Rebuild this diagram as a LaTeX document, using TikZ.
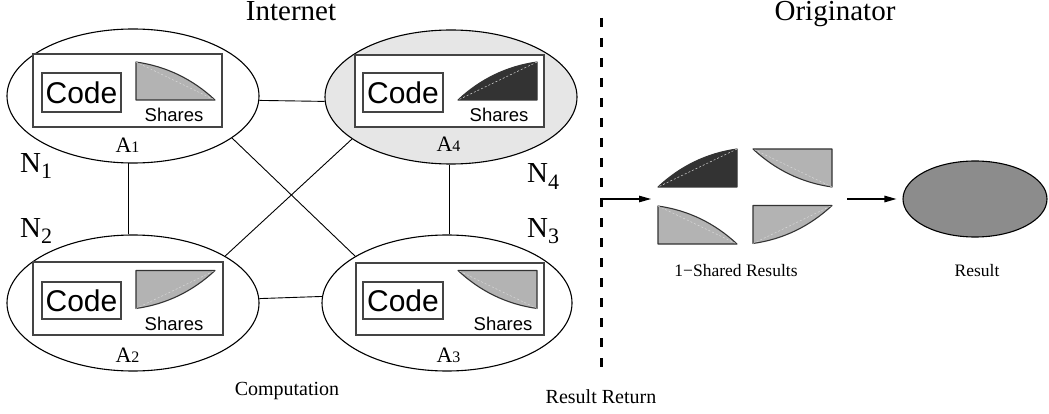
\documentclass[tikz,border=0pt]{standalone}
\usepackage{fontspec}
\setmainfont{Liberation Serif}
\newfontfamily\sansf{Liberation Sans}
\usetikzlibrary{shapes.geometric,arrows.meta}

\definecolor{siteshade}{HTML}{E6E6E6}
\definecolor{sharelight}{HTML}{B3B3B3}
\definecolor{sharedark}{HTML}{333333}
\definecolor{resultfill}{HTML}{8C8C8C}
\definecolor{boxedge}{HTML}{444444}

% one share: left edge, bottom edge and a bulging arc, centred on the origin
\newcommand\sharepiece[3]{%
  \begin{scope}[shift={#1},#2]
    \fill[#3,draw=sharedark,line width=1.1pt,line join=round]
      (-39.5,-19) -- (-39.5,19) -- (39.5,19)
      .. controls (17.1,-1.9) and (-9.2,-14.7) .. cycle;
    \draw[white!85!black,line width=0.5pt,dash pattern=on 2pt off 2pt]
      (-39.5,-19) -- (39.5,19);
  \end{scope}}

\tikzset{
  site/.style={ellipse,draw,line width=1.1pt,inner sep=0pt},
  agentbox/.style={rectangle,draw=boxedge,line width=1.6pt,fill=white,inner sep=0pt},
  codebox/.style={rectangle,draw=boxedge,line width=1.4pt,fill=white,inner sep=0pt,
    font=\sansf\fontsize{30}{30}\selectfont},
  sharetext/.style={anchor=base,inner sep=0pt,font=\sansf\fontsize{18.5}{19}\selectfont},
  agentlabel/.style={anchor=base,inner sep=0pt,font=\fontsize{22}{22}\selectfont},
  netlabel/.style={anchor=base west,inner sep=0pt,font=\fontsize{29}{29}\selectfont},
  title/.style={anchor=base,inner sep=0pt,font=\fontsize{29}{29}\selectfont},
  caption/.style={anchor=base,inner sep=0pt,font=\fontsize{20}{20}\selectfont},
  smallcaption/.style={anchor=base,inner sep=0pt,font=\fontsize{17.5}{18}\selectfont},
  link/.style={line width=0.9pt},
  flow/.style={line width=1.1pt,-{Triangle[length=12pt,width=6.5pt]}},
  divider/.style={line width=3pt,dash pattern=on 9pt off 11pt}
}

\newcommand\Asub[1]{A{\fontsize{16}{16}\selectfont #1}}
\newcommand\Nsub[1]{N\raisebox{-6pt}{\fontsize{22}{22}\selectfont #1}}

\begin{document}
\begin{tikzpicture}[x=1pt,y=-1pt]
\useasboundingbox (0,0) rectangle (1049,414);

% hosts on the internet
\node[site,minimum width=252pt,minimum height=134pt] (A1) at (133,96) {};
\node[site,fill=siteshade,minimum width=252pt,minimum height=134pt] (A4) at (451,97) {};
\node[site,minimum width=252pt,minimum height=136pt] (A2) at (133,303) {};
\node[site,minimum width=250pt,minimum height=136pt] (A3) at (447,303) {};

% network links
\draw[link] (A1.-2) -- (A4.182);
\draw[link] (A2.2.5) -- (A3.177.5);
\draw[link] (A1.-94) -- (A1.-94 |- A2.north);
\draw[link] (A4.-91) -- (A4.-91 |- A3.north);
\draw[link] (A1.-23) -- (A3.153);
\draw[link] (A4.203) -- (A2.27);

% mobile agents: code plus share
\node[agentbox,minimum width=189pt,minimum height=73pt] (B1) at (127.5,90.5) {};
\node[agentbox,minimum width=189pt,minimum height=72pt] (B4) at (449.5,91) {};
\node[agentbox,minimum width=190pt,minimum height=73pt] (B2) at (128,298.5) {};
\node[agentbox,minimum width=188pt,minimum height=72pt] (B3) at (450,299) {};

\node[codebox,minimum width=79pt,minimum height=39pt] (C1) at (81.5,92.5) {Code};
\node[codebox,minimum width=80pt,minimum height=39pt] (C4) at (403,92.5) {Code};
\node[codebox,minimum width=79pt,minimum height=37pt] (C2) at (81.5,300.5) {Code};
\node[codebox,minimum width=80pt,minimum height=37pt] (C3) at (403,300.5) {Code};

\sharepiece{(175.5,81)}{}{sharelight}
\sharepiece{(497.5,81)}{xscale=-1}{sharedark}
\sharepiece{(175.5,289.5)}{yscale=-1}{sharelight}
\sharepiece{(497.5,289.5)}{xscale=-1,yscale=-1}{sharelight}

\node[sharetext] (S1) at (174,122) {Shares};
\node[sharetext] (S4) at (499,122) {Shares};
\node[sharetext] (S2) at (174,330) {Shares};
\node[sharetext] (S3) at (503,330) {Shares};

\node[agentlabel] (L1) at (127.5,153) {\Asub{1}};
\node[agentlabel] (L4) at (448.5,152) {\Asub{4}};
\node[agentlabel] (L2) at (127.5,362) {\Asub{2}};
\node[agentlabel] (L3) at (448.5,362) {\Asub{3}};

% host names
\node[netlabel] (N1) at (20,173) {\Nsub{1}};
\node[netlabel] (N2) at (20,237) {\Nsub{2}};
\node[netlabel] (N4) at (527,183) {\Nsub{4}};
\node[netlabel] (N3) at (527,237) {\Nsub{3}};

% titles and captions
\node[title] (internet) at (291,21) {Internet};
\node[title] (originator) at (835,21) {Originator};
\node[caption] (computation) at (287,395) {Computation};
\node[caption] (resultreturn) at (601,403) {Result Return};

% boundary between network and originator
\coordinate (divtop) at (601,18);
\coordinate (divbot) at (601,369);
\draw[divider] (divtop) -- (divbot);

% collected shares at the originator
\sharepiece{(697.5,168)}{xscale=-1}{sharedark}
\sharepiece{(792.5,168)}{xscale=-1,yscale=-1}{sharelight}
\sharepiece{(697.5,225)}{}{sharelight}
\sharepiece{(792.5,224.5)}{yscale=-1}{sharelight}
\node[smallcaption] (shared) at (736,276) {1\char"2212 Shared Results};

\node[ellipse,draw,line width=1.1pt,fill=resultfill,inner sep=0pt,
  minimum width=144pt,minimum height=76pt] (R) at (975,199) {};
\node[smallcaption] (resultlabel) at (977,276) {Result};

% flow of results
\coordinate (ret) at (601,199);
\coordinate (sharesin) at (651,199);
\coordinate (sharesout) at (847,199);
\draw[flow] (ret) -- (sharesin);
\draw[flow,shorten >=6pt] (sharesout) -- (R.west);
\end{tikzpicture}
\end{document}
